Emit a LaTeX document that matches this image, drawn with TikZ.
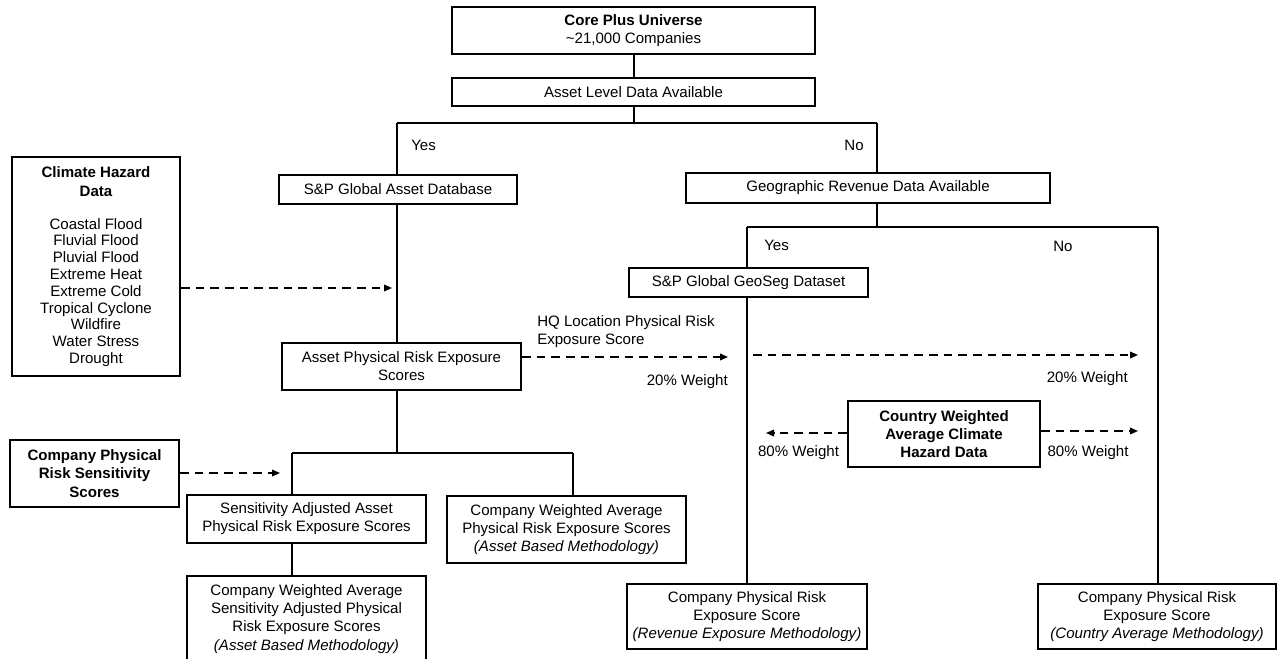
\documentclass[tikz,border=0pt]{standalone}
\usepackage{fontspec}
\setmainfont{Liberation Sans}
\usetikzlibrary{arrows.meta}
\newcommand\fs{\fontsize{11.3pt}{13.6pt}\selectfont}
\newcommand\fslist{\fontsize{11.3pt}{12.6pt}\selectfont}
\begin{document}
\begin{tikzpicture}[x=0.75pt,y=-0.75pt,
  every node/.style={font=\fs, text=black},
  box/.style={draw, line width=1.4pt, align=center, inner sep=0pt},
  sz/.style 2 args={minimum width=#1*0.75pt, minimum height=#2*0.75pt},
  conn/.style={line width=1.3pt},
  dasharr/.style={line width=1.1pt, dash pattern=on 6.5pt off 4.5pt,
                  -{Triangle[length=6pt,width=5pt]}},
  lbl/.style={inner sep=0pt, align=left}]

\fill[white] (0,0) rectangle (1278,659);
\useasboundingbox (0,0) rectangle (1278,659);

% --- top of the tree
\node[box,sz={363}{47}] (core) at (633.5,30.5)
  {\textbf{Core Plus Universe}\\\textasciitilde21,000 Companies};
\node[box,sz={363}{28}] (ald) at (633.5,92) {Asset Level Data Available};

\coordinate (s1)  at (634,123);
\coordinate (s1l) at (397,123);
\coordinate (s1r) at (877,123);
\draw[conn] (s1 |- core.south) -- (s1 |- ald.north);
\draw[conn] (s1 |- ald.south) -- (s1);
\draw[conn] (s1l) -- (s1r);
\node[lbl,anchor=west] (yes1) at (411,145) {Yes};
\node[lbl,anchor=east] (no1)  at (864,145) {No};

% --- asset branch
\node[box,sz={238}{29}] (sapa) at (398,189.5) {S\&P Global Asset Database};
\draw[conn] (s1l) -- (s1l |- sapa.north);

\node[box,sz={168}{219},font=\fslist] (chd) at (96,266.5)
  {\textbf{Climate Hazard}\\[1.6pt]\textbf{Data}\\[12.2pt]
   Coastal Flood\\Fluvial Flood\\Pluvial Flood\\Extreme Heat\\Extreme Cold\\
   Tropical Cyclone\\Wildfire\\Water Stress\\Drought};
\coordinate (ca) at (392,288);
\draw[dasharr] (chd.east |- ca) -- (ca);

\node[box,sz={239}{47}] (apr) at (401.5,366.5)
  {Asset Physical Risk Exposure\\Scores};
\draw[conn] (sapa.south -| s1l) -- (apr.north -| s1l);

\coordinate (hq) at (728,357);
\draw[dasharr] (apr.east |- hq) -- (hq);
\node[lbl,anchor=west] (hqt) at (537,331.5)
  {HQ Location Physical Risk\\Exposure Score};
\node[lbl,anchor=east] (w20a) at (728,382) {20\% Weight};

\node[box,sz={169}{67}] (crs) at (94.5,473.5)
  {\textbf{Company Physical}\\\textbf{Risk Sensitivity}\\\textbf{Scores}};
\coordinate (crsa) at (280,473);
\draw[dasharr] (crs.east |- crsa) -- (crsa);

\coordinate (s3)  at (397,453);
\coordinate (s3a) at (292,453);
\coordinate (s3b) at (573,453);
\draw[conn] (apr.south -| s3) -- (s3);
\draw[conn] (s3a) -- (s3b);

\node[box,sz={239}{48}] (sadj) at (306.5,519)
  {Sensitivity Adjusted Asset\\Physical Risk Exposure Scores};
\node[box,sz={239}{67}] (cwa) at (566.5,529.5)
  {Company Weighted Average\\Physical Risk Exposure Scores\\\textit{(Asset Based Methodology)}};
\draw[conn] (s3a) -- (s3a |- sadj.north);
\draw[conn] (s3b) -- (s3b |- cwa.north);

\node[box,sz={239}{86}] (cwsa) at (306.5,619)
  {Company Weighted Average\\Sensitivity Adjusted Physical\\Risk Exposure Scores\\\textit{(Asset Based Methodology)}};
\draw[conn] (sadj.south -| s3a) -- (cwsa.north -| s3a);

% --- revenue branch
\node[box,sz={364}{30}] (geo) at (868,188) {Geographic Revenue Data Available};
\draw[conn] (s1r) -- (s1r |- geo.north);

\coordinate (s2r) at (877,227);
\coordinate (s2a) at (747,227);
\coordinate (s2b) at (1158,227);
\draw[conn] (geo.south -| s2r) -- (s2r);
\draw[conn] (s2a) -- (s2b);
\node[lbl,anchor=west] (yes2) at (764,245) {Yes};
\node[lbl,anchor=west] (no2)  at (1053,246) {No};

\node[box,sz={239}{29}] (gs) at (748.5,282.5) {S\&P Global GeoSeg Dataset};
\draw[conn] (s2a) -- (s2a |- gs.north);

\node[box,sz={240}{65}] (rev) at (747,616.5)
  {Company Physical Risk\\Exposure Score\\\textit{(Revenue Exposure Methodology)}};
\node[box,sz={238}{65}] (cnt) at (1157,616.5)
  {Company Physical Risk\\Exposure Score\\\textit{(Country Average Methodology)}};
\draw[conn] (gs.south -| s2a) -- (rev.north -| s2a);
\draw[conn] (s2b) -- (cnt.north -| s2b);

\coordinate (la) at (753,355);
\coordinate (lb) at (1138,355);
\draw[dasharr] (la) -- (lb);
\node[lbl,anchor=east] (w20b) at (1128,379) {20\% Weight};

\node[box,sz={192}{66}] (cw) at (944,434)
  {\textbf{Country Weighted}\\\textbf{Average Climate}\\\textbf{Hazard Data}};
\coordinate (cwl) at (766,433);
\coordinate (cwr) at (1138,431);
\draw[dasharr] (cw.west |- cwl) -- (cwl);
\draw[dasharr] (cw.east |- cwr) -- (cwr);
\node[lbl] (w80a) at (798.5,453) {80\% Weight};
\node[lbl] (w80b) at (1088,453) {80\% Weight};

\end{tikzpicture}
\end{document}
